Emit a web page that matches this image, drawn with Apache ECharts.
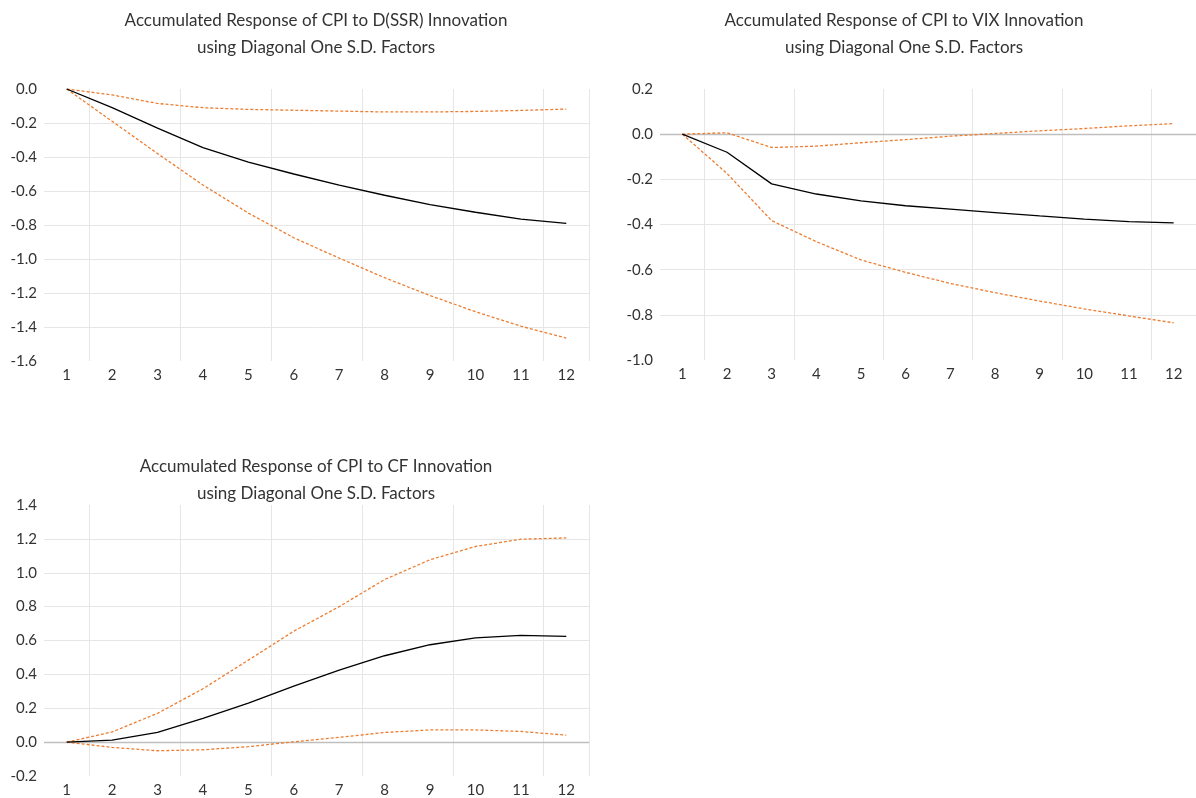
<!DOCTYPE html>
<html>
<head>
<meta charset="utf-8">
<script src="https://cdn.jsdelivr.net/npm/echarts@6/dist/echarts.min.js"></script>
<style>
  html, body { margin: 0; padding: 0; background: #fff; }
  #main { width: 1196px; height: 798px; }
</style>
</head>
<body>
<div id="main"></div>
<script>
// periods on the x axis
var periods = ['1', '2', '3', '4', '5', '6', '7', '8', '9', '10', '11', '12'];

// CPI to D(SSR)
var ssrResp  = [0, -0.11, -0.23, -0.345, -0.43, -0.50, -0.565, -0.625, -0.68, -0.725, -0.765, -0.79];
var ssrUpper = [0, -0.035, -0.085, -0.11, -0.12, -0.125, -0.13, -0.135, -0.135, -0.132, -0.126, -0.118];
var ssrLower = [0, -0.19, -0.38, -0.565, -0.73, -0.875, -0.995, -1.11, -1.215, -1.31, -1.395, -1.465];

// CPI to VIX
var vixResp  = [0, -0.08, -0.22, -0.265, -0.295, -0.317, -0.332, -0.347, -0.362, -0.376, -0.387, -0.393];
var vixUpper = [0, 0.006, -0.059, -0.053, -0.038, -0.024, -0.009, 0.003, 0.015, 0.025, 0.037, 0.047];
var vixLower = [0, -0.174, -0.383, -0.476, -0.557, -0.612, -0.661, -0.702, -0.739, -0.774, -0.805, -0.835];

// CPI to CF
var cfResp  = [0, 0.012, 0.057, 0.14, 0.23, 0.33, 0.425, 0.51, 0.575, 0.615, 0.63, 0.624];
var cfUpper = [0, 0.06, 0.17, 0.315, 0.484, 0.655, 0.80, 0.96, 1.077, 1.155, 1.198, 1.206];
var cfLower = [0, -0.031, -0.051, -0.045, -0.027, 0.002, 0.028, 0.057, 0.072, 0.072, 0.063, 0.041];

var FONT = 'Lato';
var TXT = '#333';
var GRIDC = '#e6e6e6';
var ORANGE = '#ED7D31';

function xAx(gi) {
    return {
        type: 'category', gridIndex: gi, data: periods, boundaryGap: true,
        axisLine: { show: false }, axisTick: { show: false },
        axisLabel: { color: TXT, fontFamily: FONT, fontSize: 15, margin: 7 },
        splitLine: {
            show: true,
            interval: function (i) { return i % 2 === 1; },
            lineStyle: { color: GRIDC, width: 1 }
        }
    };
}

function yAx(gi, min, max) {
    return {
        type: 'value', gridIndex: gi, min: min, max: max, interval: 0.2,
        axisLine: { show: false }, axisTick: { show: false },
        axisLabel: {
            color: TXT, fontFamily: FONT, fontSize: 15, margin: 7,
            formatter: function (v) { return v.toFixed(1); }
        },
        splitLine: { show: true, showMinLine: false, showMaxLine: false, lineStyle: { color: GRIDC, width: 1 } }
    };
}

function bands(gi, resp, upper, lower, zeroLine) {
    var main = {
        type: 'line', xAxisIndex: gi, yAxisIndex: gi, data: resp, symbol: 'none',
        lineStyle: { color: '#000', width: 1.3 }, z: 4
    };
    if (zeroLine) {
        main.markLine = {
            silent: true, symbol: 'none', label: { show: false },
            lineStyle: { color: '#bfbfbf', type: 'solid', width: 1.3 },
            data: [{ yAxis: 0 }], z: 1
        };
    }
    var dash = function (d) {
        return {
            type: 'line', xAxisIndex: gi, yAxisIndex: gi, data: d, symbol: 'none',
            lineStyle: { color: ORANGE, width: 1.3, type: [3, 2] }, z: 3
        };
    };
    return [main, dash(upper), dash(lower)];
}

function ttl(text, cx, top) {
    return {
        text: text, left: cx, top: top, textAlign: 'center', padding: 0,
        textStyle: { fontFamily: FONT, fontSize: 17, fontWeight: 'normal', color: TXT, lineHeight: 27 }
    };
}

var myChart = echarts.init(document.getElementById('main'));

var option = {
    animation: false,
    title: [
        ttl('Accumulated Response of CPI to D(SSR) Innovation\nusing Diagonal One S.D. Factors', 316, 7),
        ttl('Accumulated Response of CPI to VIX Innovation\nusing Diagonal One S.D. Factors', 904, 7),
        ttl('Accumulated Response of CPI to CF Innovation\nusing Diagonal One S.D. Factors', 316, 453)
    ],
    grid: [
        { left: 44, right: 607, top: 89, bottom: 437 },
        { left: 660, right: -9, top: 89, bottom: 438 },
        { left: 44, right: 607, top: 505, bottom: 21 }
    ],
    xAxis: [xAx(0), xAx(1), xAx(2)],
    yAxis: [yAx(0, -1.6, 0), yAx(1, -1.0, 0.2), yAx(2, -0.2, 1.4)],
    series: [].concat(
        bands(0, ssrResp, ssrUpper, ssrLower, false),
        bands(1, vixResp, vixUpper, vixLower, true),
        bands(2, cfResp, cfUpper, cfLower, true)
    )
};

myChart.setOption(option);
</script>
</body>
</html>
